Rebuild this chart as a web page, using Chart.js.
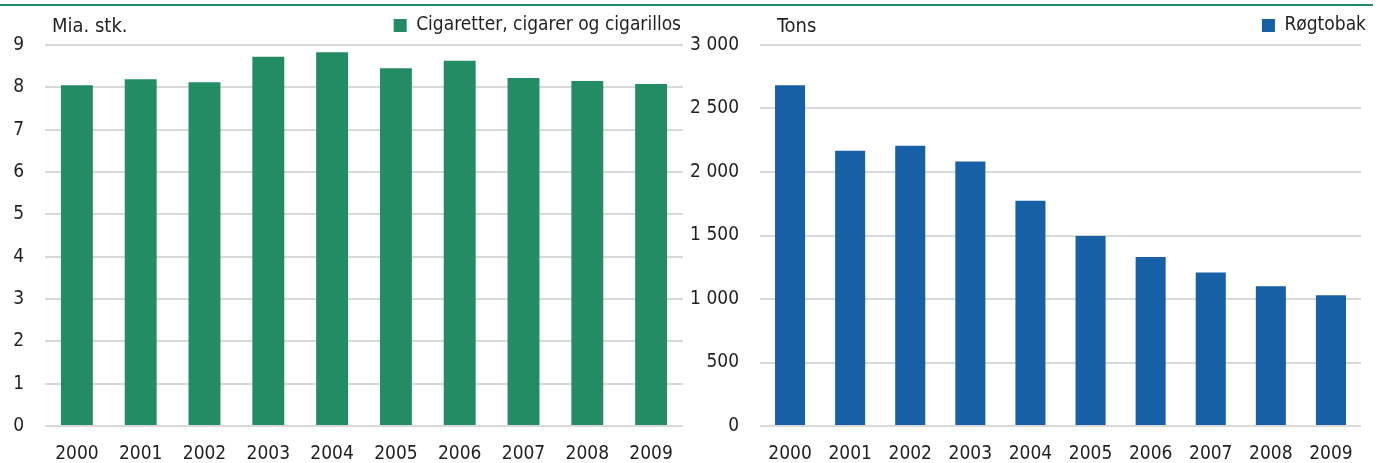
<!DOCTYPE html>
<html>
<head>
<meta charset="utf-8">
<script src="https://cdn.jsdelivr.net/npm/chart.js@4.4.1/dist/chart.umd.min.js"></script>
<style>
  body { margin: 0; background: #fff; width: 1385px; height: 463px; overflow: hidden; position: relative; }
  #topline { position: absolute; left: 0; top: 4px; width: 1373px; height: 2px; background: #238b64; }
  #venstre { position: absolute; left: 0; top: 0; }
  #hoejre { position: absolute; left: 685px; top: 0; }
</style>
</head>
<body>
<div id="topline"></div>
<div id="venstre" style="width:694px;height:463px"><canvas id="grafVenstre"></canvas></div>
<div id="hoejre" style="width:700px;height:463px"><canvas id="grafHoejre"></canvas></div>
<script>
// Data
const aar = ['2000', '2001', '2002', '2003', '2004', '2005', '2006', '2007', '2008', '2009'];
const cigaretter = [8.05, 8.19, 8.12, 8.72, 8.83, 8.45, 8.63, 8.22, 8.15, 8.08];
const roegtobak = [2683, 2168, 2207, 2083, 1774, 1497, 1330, 1209, 1101, 1029];

const skrift = "'Liberation Sans Narrow', 'Arial Narrow', 'DejaVu Sans Condensed', sans-serif";
const tekstFarve = '#231f20';
const gitterFarve = '#d9d9d9';

// Tegner enhedsteksten over y-aksen
function enhedPlugin(tekst, x) {
  return {
    id: 'enhed',
    afterDraw(chart) {
      const ctx = chart.ctx;
      ctx.save();
      ctx.font = '20px ' + skrift;
      ctx.fillStyle = tekstFarve;
      ctx.textBaseline = 'middle';
      ctx.fillText(tekst, x, 27);
      ctx.restore();
    }
  };
}

function lavGraf(id, label, data, farve, maks, trin, yBredde, hoejreBredde, padHoejre, enhed, enhedX, format) {
  var ctx = document.getElementById(id).getContext('2d');
  return new Chart(ctx, {
    type: 'bar',
    data: {
      labels: aar,
      datasets: [{
        label: label,
        data: data,
        backgroundColor: farve,
        borderWidth: 0,
        categoryPercentage: 1,
        barPercentage: 0.5
      }]
    },
    options: {
      responsive: true,
      maintainAspectRatio: false,
      animation: false,
      layout: { padding: { top: 5, right: padHoejre, bottom: 0, left: 0 } },
      plugins: {
        tooltip: { enabled: false },
        legend: {
          position: 'top',
          align: 'end',
          labels: {
            boxWidth: 13,
            boxHeight: 13,
            padding: 11,
            color: tekstFarve,
            font: { family: skrift, size: 19 }
          }
        }
      },
      scales: {
        x: {
          afterFit(scale) { scale.height = 37; },
          grid: { display: false, drawTicks: false },
          border: { display: false },
          ticks: { color: tekstFarve, padding: 17, font: { family: skrift, size: 19 }, maxRotation: 0 }
        },
        y: {
          min: 0,
          max: maks,
          afterFit(scale) { scale.width = yBredde; },
          grid: { color: gitterFarve, lineWidth: 2, drawTicks: false },
          border: { display: false },
          ticks: {
            stepSize: trin,
            color: tekstFarve,
            padding: 21,
            font: { family: skrift, size: 19 },
            callback: format
          }
        },
        // tom akse til højre, kun for at give plads
        luft: {
          position: 'right',
          afterFit(scale) { scale.width = hoejreBredde; },
          grid: { display: false },
          border: { display: false },
          ticks: { display: false }
        }
      }
    },
    plugins: [enhedPlugin(enhed, enhedX)]
  });
}

lavGraf('grafVenstre', 'Cigaretter, cigarer og cigarillos', cigaretter, '#248c65', 9, 1, 45, 9, 2,
  'Mia. stk.', 52, v => v);
lavGraf('grafHoejre', 'Røgtobak', roegtobak, '#1860a5', 3000, 500, 75, 16, 8,
  'Tons', 92, v => String(v).replace(/\B(?=(\d{3})+(?!\d))/g, ' '));
</script>
</body>
</html>
